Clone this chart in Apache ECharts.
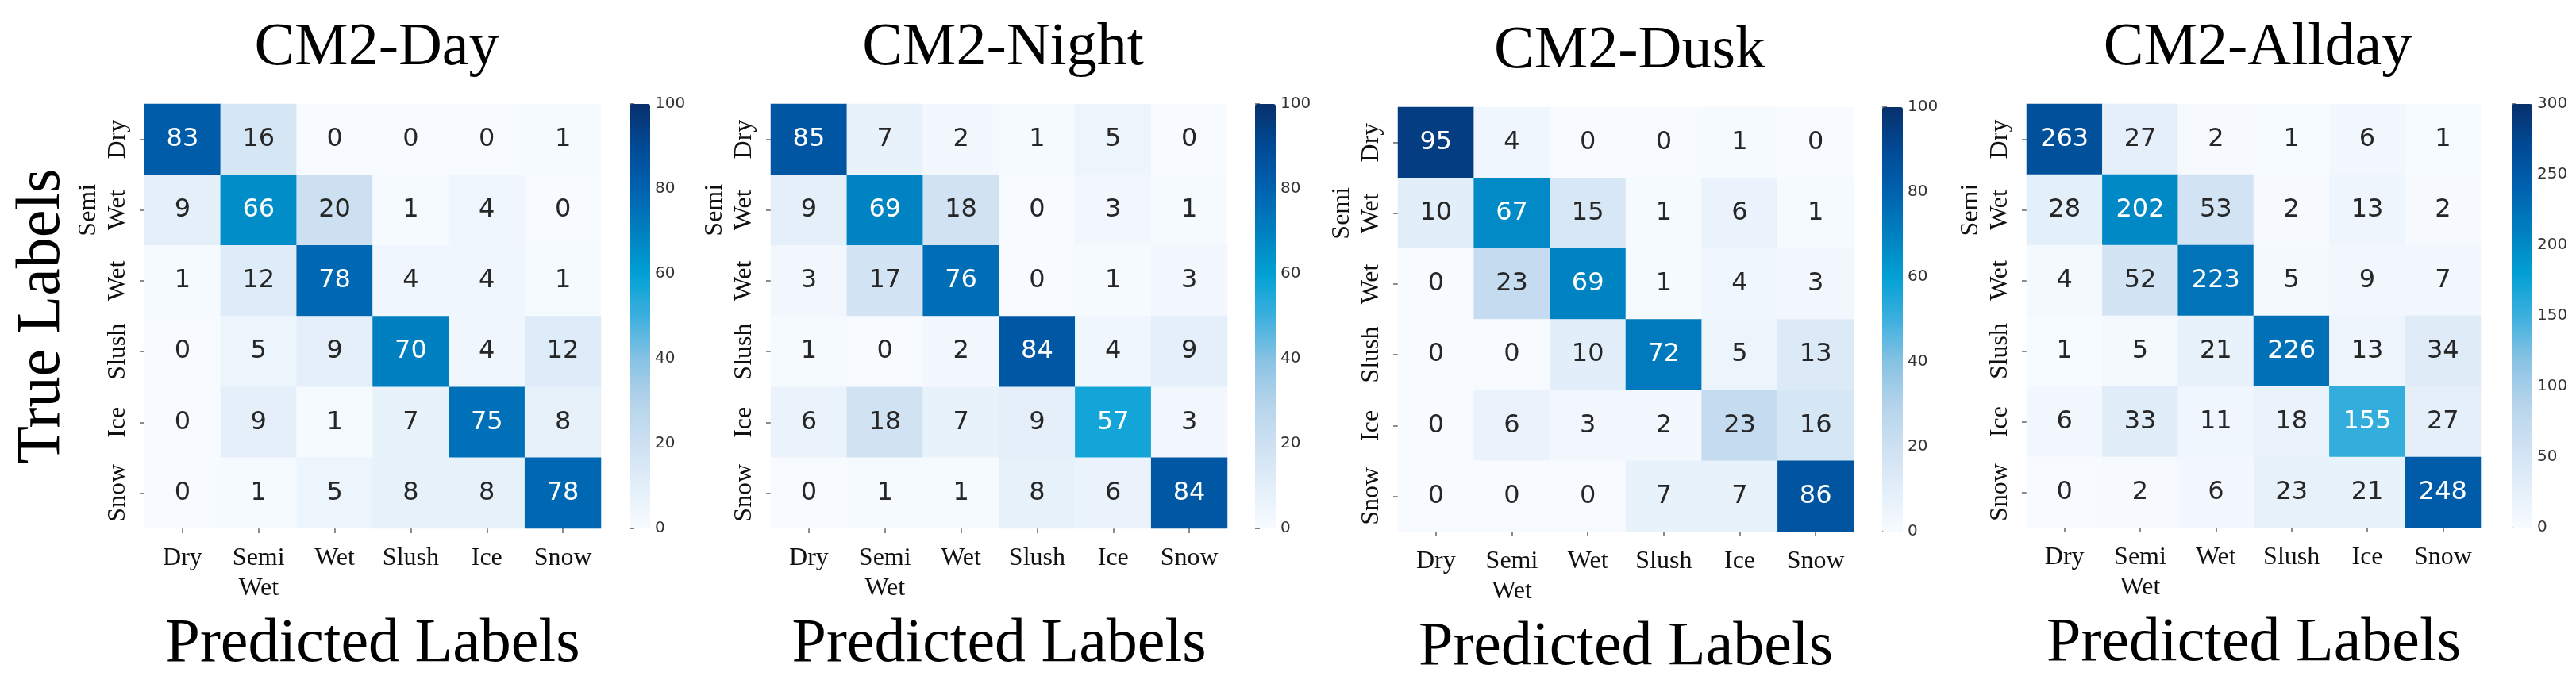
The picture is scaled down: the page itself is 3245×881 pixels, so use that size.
<!DOCTYPE html>
<html>
<head>
<meta charset="utf-8">
<script src="https://cdn.jsdelivr.net/npm/echarts@6/dist/echarts.min.js"></script>
<style>
  html, body { margin: 0; padding: 0; background: #fff; }
  #chart { width: 3245px; height: 881px; }
</style>
</head>
<body>
<div id="chart"></div>
<script>
// tick labels shared by both axes
const classLabels = ['Dry', 'Semi\nWet', 'Wet', 'Slush', 'Ice', 'Snow']

// rows = true label, cols = predicted label
const dayMatrix = [
  [83, 16, 0, 0, 0, 1],
  [9, 66, 20, 1, 4, 0],
  [1, 12, 78, 4, 4, 1],
  [0, 5, 9, 70, 4, 12],
  [0, 9, 1, 7, 75, 8],
  [0, 1, 5, 8, 8, 78]
]
const nightMatrix = [
  [85, 7, 2, 1, 5, 0],
  [9, 69, 18, 0, 3, 1],
  [3, 17, 76, 0, 1, 3],
  [1, 0, 2, 84, 4, 9],
  [6, 18, 7, 9, 57, 3],
  [0, 1, 1, 8, 6, 84]
]
const duskMatrix = [
  [95, 4, 0, 0, 1, 0],
  [10, 67, 15, 1, 6, 1],
  [0, 23, 69, 1, 4, 3],
  [0, 0, 10, 72, 5, 13],
  [0, 6, 3, 2, 23, 16],
  [0, 0, 0, 7, 7, 86]
]
const alldayMatrix = [
  [263, 27, 2, 1, 6, 1],
  [28, 202, 53, 2, 13, 2],
  [4, 52, 223, 5, 9, 7],
  [1, 5, 21, 226, 13, 34],
  [6, 33, 11, 18, 155, 27],
  [0, 2, 6, 23, 21, 248]
]

const panelTitles = ['CM2-Day', 'CM2-Night', 'CM2-Dusk', 'CM2-Allday']
const panelMatrices = [dayMatrix, nightMatrix, duskMatrix, alldayMatrix]
const colorbarMax = [100, 100, 100, 300]
const colorbarStep = [20, 20, 20, 50]

// layout only (pixels)
const layout = [
  { left: 182, top: 131, width: 575, height: 535, cbLeft: 793 },
  { left: 971, top: 131, width: 575, height: 535, cbLeft: 1581 },
  { left: 1761, top: 135, width: 574, height: 535, cbLeft: 2371 },
  { left: 2553, top: 131, width: 572, height: 534, cbLeft: 3164 }
]

const blues = [
  '#f7fbff', '#e2eef9', '#cde0f2', '#b3d3ea', '#86c2e3', '#3cafde',
  '#02a0d4', '#0080c0', '#0062af', '#004a96', '#08306b'
]

const serif = 'Liberation Serif'
const sans = 'DejaVu Sans'

const toCells = (matrix, max) => {
  const cells = []
  matrix.forEach((row, r) => {
    row.forEach((v, c) => {
      cells.push({
        value: [c, r, v],
        label: { color: v / max > 0.45 ? '#ffffff' : '#262626' }
      })
    })
  })
  return cells
}

const option = {
  backgroundColor: '#ffffff',
  animation: false,
  title: [],
  grid: [],
  xAxis: [],
  yAxis: [],
  visualMap: [],
  series: []
}

layout.forEach((l, i) => {
  option.title.push({
    text: panelTitles[i],
    left: l.left + l.width / 2,
    top: l.top - 113,
    textAlign: 'center',
    textStyle: { fontFamily: serif, fontSize: 76, fontWeight: 'normal', color: '#000', lineHeight: 76 }
  })

  // heatmap grid
  option.grid.push({ left: l.left, top: l.top, width: l.width, height: l.height })
  option.xAxis.push({
    type: 'category',
    gridIndex: i * 2,
    data: classLabels,
    position: 'bottom',
    name: 'Predicted Labels',
    nameLocation: 'middle',
    nameGap: 108,
    nameTextStyle: { fontFamily: serif, fontSize: 78, color: '#000', lineHeight: 78 },
    axisLine: { show: false },
    axisTick: { show: true, alignWithLabel: true, interval: 0, length: 6, lineStyle: { color: '#666', width: 1.5 } },
    axisLabel: { interval: 0, fontFamily: serif, fontSize: 32, color: '#111', lineHeight: 38, margin: 19 },
    splitLine: { show: false }
  })
  option.yAxis.push({
    type: 'category',
    gridIndex: i * 2,
    data: classLabels,
    inverse: true,
    name: i === 0 ? 'True Labels' : '',
    nameLocation: 'middle',
    nameGap: 89,
    nameRotate: 90,
    nameTextStyle: { fontFamily: serif, fontSize: 78, color: '#000', lineHeight: 78 },
    axisLine: { show: false },
    axisTick: { show: true, alignWithLabel: true, interval: 0, length: 6, lineStyle: { color: '#666', width: 1.5 } },
    axisLabel: { interval: 0, fontFamily: serif, fontSize: 32, color: '#111', lineHeight: 37, margin: 15, rotate: 90 },
    splitLine: { show: false }
  })

  // colorbar tick axis
  option.grid.push({ left: l.cbLeft, top: l.top, width: 26, height: l.height })
  option.xAxis.push({ type: 'value', gridIndex: i * 2 + 1, show: false, min: 0, max: 1 })
  option.yAxis.push({
    type: 'value',
    gridIndex: i * 2 + 1,
    position: 'right',
    min: 0,
    max: colorbarMax[i],
    interval: colorbarStep[i],
    axisLine: { show: false },
    axisTick: { show: true, length: 6, lineStyle: { color: '#555', width: 1.5 } },
    axisLabel: { fontFamily: sans, fontSize: 20, color: '#333', margin: 6 },
    splitLine: { show: false }
  })

  option.visualMap.push({
    type: 'continuous',
    seriesIndex: i,
    min: 0,
    max: colorbarMax[i],
    calculable: false,
    hoverLink: false,
    orient: 'vertical',
    left: l.cbLeft,
    top: l.top,
    padding: 0,
    itemWidth: 26,
    itemHeight: l.height,
    inRange: { color: blues }
  })

  option.series.push({
    type: 'heatmap',
    xAxisIndex: i * 2,
    yAxisIndex: i * 2,
    data: toCells(panelMatrices[i], colorbarMax[i]),
    itemStyle: { borderWidth: 0 },
    label: { show: true, fontFamily: sans, fontSize: 32 },
    emphasis: { disabled: true }
  })
})

const chart = echarts.init(document.getElementById('chart'), null, { renderer: 'canvas' })
chart.setOption(option)
</script>
</body>
</html>
